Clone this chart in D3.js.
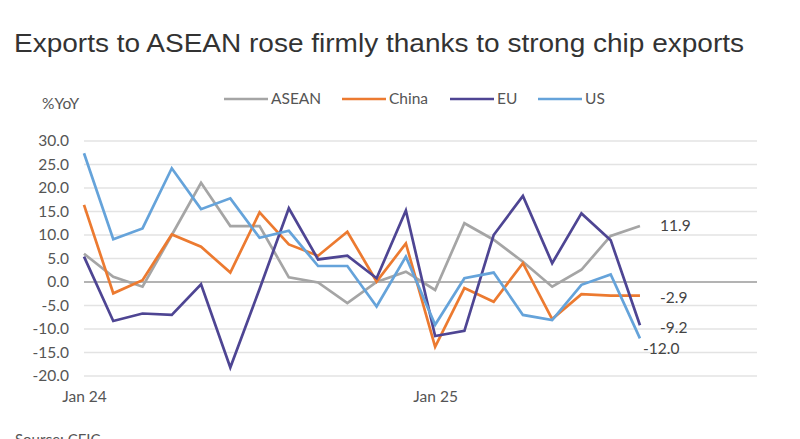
<!DOCTYPE html>
<html><head><meta charset="utf-8">
<script src="https://cdn.jsdelivr.net/npm/d3@7"></script>
<style>
html,body{margin:0;padding:0;background:#fff;}
svg{display:block;}
</style>
</head><body>
<svg id="chart" width="800" height="439"></svg>
<script>
const categories = ["Jan 24","Feb 24","Mar 24","Apr 24","May 24","Jun 24","Jul 24","Aug 24","Sep 24","Oct 24","Nov 24","Dec 24",
  "Jan 25","Feb 25","Mar 25","Apr 25","May 25","Jun 25","Jul 25","Aug 25","Sep 25","Oct 25","Nov 25","Dec 25"];
const xTickLabels = ["Jan 24","Jan 25"];
const yTicks = [-20,-15,-10,-5,0,5,10,15,20,25,30];
const asean = [6.0, 1.1, -1.0, 10.0, 21.1, 11.9, 11.9, 1.0, -0.1, -4.5, 0.0, 2.2, -1.7, 12.5, 9.0, 4.3, -1.0, 2.6, 9.8, 11.9];
const china = [16.4, -2.4, 0.4, 10.1, 7.5, 2.0, 14.8, 8.0, 5.6, 10.7, 0.1, 8.2, -13.8, -1.3, -4.2, 4.0, -7.9, -2.6, -2.9, -2.9];
const eu    = [5.4, -8.3, -6.7, -7.0, -0.5, -18.2, -1.5, 15.7, 4.8, 5.6, 0.8, 15.2, -11.5, -10.4, 10.0, 18.3, 4.0, 14.6, 8.9, -9.2];
const us    = [27.4, 9.1, 11.4, 24.2, 15.5, 17.8, 9.4, 10.9, 3.4, 3.4, -5.2, 5.4, -9.1, 0.8, 2.0, -7.0, -8.1, -0.6, 1.6, -12.0];
const seriesNames = ["ASEAN","China","EU","US"];
const seriesColors = ["#a5a5a5","#ec7a30","#4e4593","#65a3da"];
const endLabels = ["11.9","-2.9","-9.2","-12.0"];

const seriesData = [asean, china, eu, us];
const svg = d3.select("#chart");
const labelFont = "Lato, 'Noto Sans', sans-serif";
const fs = 15.5;

// Title
svg.append("text").attr("x",14).attr("y",52)
  .attr("font-family","'Liberation Sans', Arial, sans-serif").attr("font-size",26)
  .attr("fill","#333").attr("textLength",730).attr("lengthAdjust","spacingAndGlyphs")
  .text("Exports to ASEAN rose firmly thanks to strong chip exports");

const x = d3.scaleLinear().domain([0, categories.length-1]).range([84, 757]);
const y = d3.scaleLinear().domain([-20, 30]).range([376, 141]);

// gridlines
svg.append("g").selectAll("line").data(yTicks.filter(d=>d!==0)).join("line")
  .attr("x1",x(0)).attr("x2",x(categories.length-1))
  .attr("y1",d=>y(d)).attr("y2",d=>y(d))
  .attr("stroke","#e3e3e3").attr("stroke-width",1.3);

// y axis
const yAxis = d3.axisLeft(y).tickValues(yTicks).tickSize(0).tickPadding(0)
  .tickFormat(d=>d.toFixed(1));
const yg = svg.append("g").attr("transform","translate(69,0)").call(yAxis);
yg.select(".domain").remove();
yg.selectAll("text").attr("font-family",labelFont).attr("font-size",fs).attr("fill","#555");

// x axis
const xAxis = d3.axisBottom(x)
  .tickValues(xTickLabels.map(l=>categories.indexOf(l)))
  .tickSize(0).tickPadding(0).tickFormat(i=>categories[i]);
const xg = svg.append("g").attr("transform","translate(0,391)").call(xAxis);
xg.select(".domain").remove();
xg.selectAll("text").attr("font-family",labelFont).attr("font-size",fs).attr("fill","#555");

// zero line
svg.append("line").attr("x1",x(0)).attr("x2",x(categories.length-1))
  .attr("y1",y(0)).attr("y2",y(0)).attr("stroke","#9a9a9a").attr("stroke-width",1.3);

// lines
const line = d3.line().x((d,i)=>x(i)).y(d=>y(d));
seriesData.forEach((s,k)=>{
  svg.append("path").datum(s).attr("d",line).attr("fill","none")
    .attr("stroke",seriesColors[k]).attr("stroke-width",2.7).attr("stroke-linejoin","miter");
});

// end labels
const endPos = [[660, y(11.9)],[660, y(-3.4)],[660, y(-9.7)],[643, y(-14.1)]];
endLabels.forEach((t,k)=>{
  svg.append("text").attr("x",endPos[k][0]).attr("y",endPos[k][1]).attr("dy","0.35em")
    .attr("font-family",labelFont).attr("font-size",fs).attr("fill","#444").text(t);
});

// y unit
svg.append("text").attr("x",42).attr("y",104).attr("dy","0.35em")
  .attr("font-family",labelFont).attr("font-size",fs).attr("fill","#555").text("%YoY");

// legend
const legendX = [224, 342, 450, 538];
seriesNames.forEach((n,k)=>{
  const g = svg.append("g").attr("transform",`translate(${legendX[k]},99)`);
  g.append("line").attr("x1",0).attr("x2",44).attr("y1",0).attr("y2",0)
    .attr("stroke",seriesColors[k]).attr("stroke-width",2.7);
  g.append("text").attr("x",47).attr("y",0).attr("dy","0.35em")
    .attr("font-family",labelFont).attr("font-size",fs).attr("fill","#555").text(n);
});

// source
svg.append("text").attr("x",15).attr("y",445)
  .attr("font-family",labelFont).attr("font-size",15).attr("fill","#555").text("Source: CEIC");
</script>
</body></html>
